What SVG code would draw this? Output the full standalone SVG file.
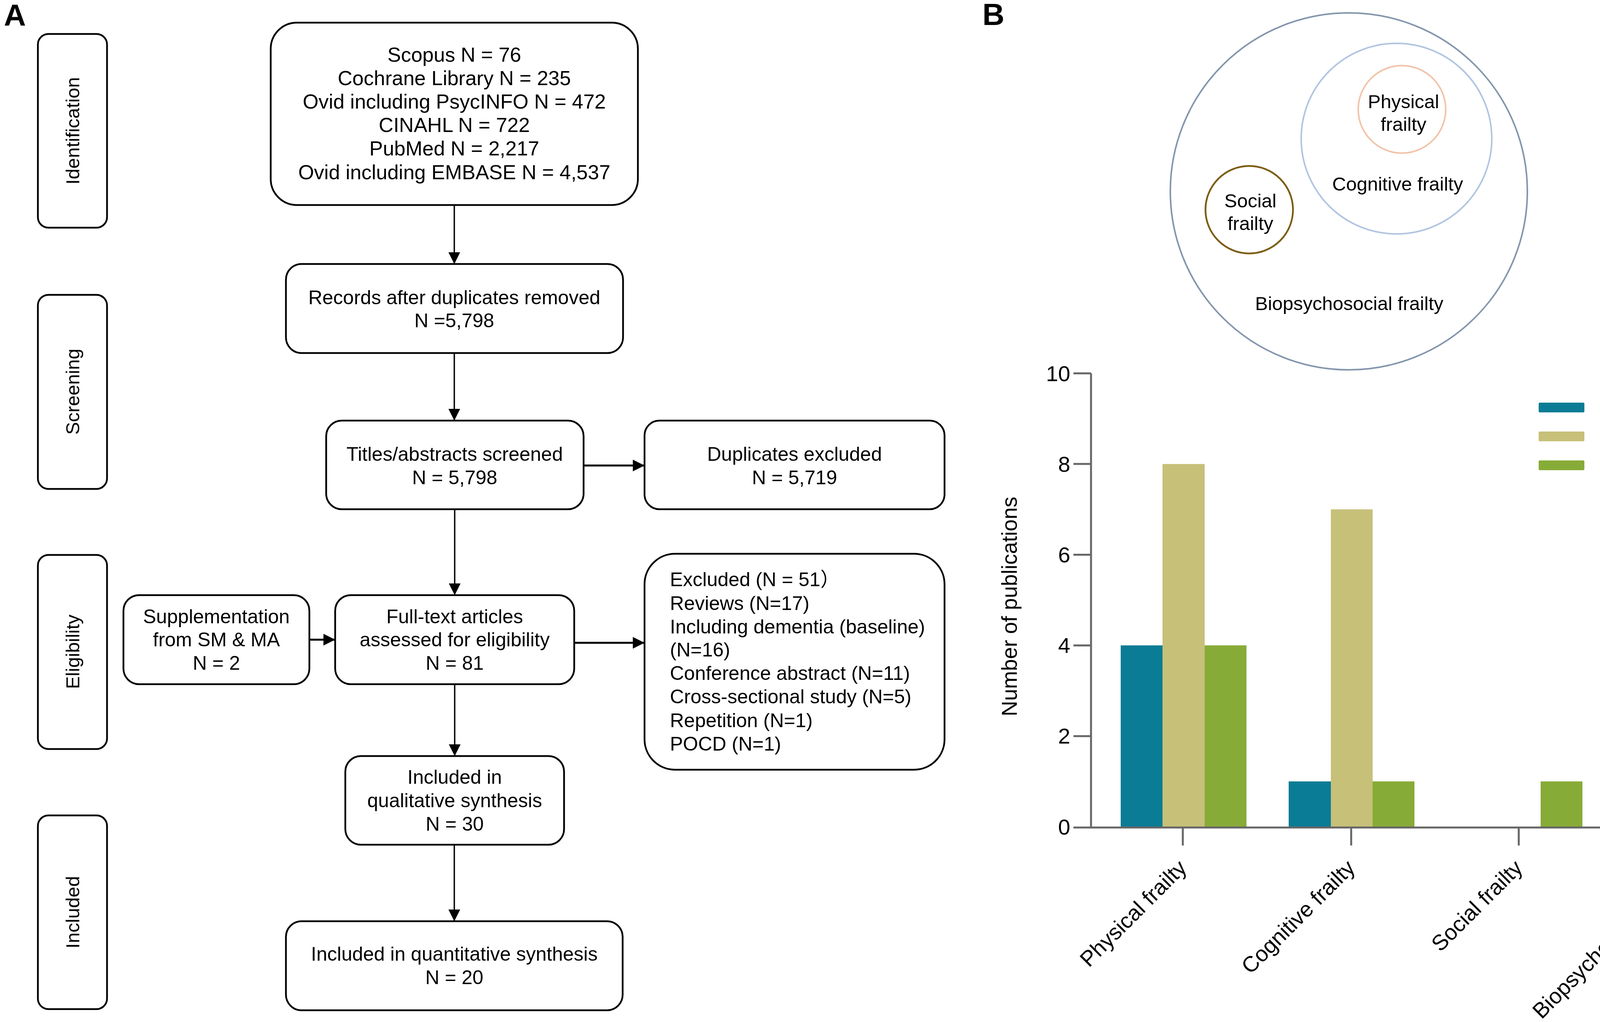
<svg xmlns="http://www.w3.org/2000/svg" width="4550" height="2617" viewBox="0 0 4550 2617">
<style>
text{font-family:"Liberation Sans",Arial,"Noto Sans CJK SC",sans-serif;fill:#000}
.box{fill:#fff;stroke:#000;stroke-width:4.5}
.t{font-size:50px;text-anchor:middle}
.tt{font-size:52px;text-anchor:middle}
.tl{font-size:50px}
.stage{font-size:49px;text-anchor:middle}
.lab{font-size:78px;font-weight:bold}
.cv{stroke:#000;stroke-width:3.5;fill:none}
.ch{stroke:#000;stroke-width:5;fill:none}
.vn{font-size:49px;text-anchor:middle}
.ax{stroke:#666;stroke-width:5;fill:none}
.tk{font-size:56px;text-anchor:end}
.xl{font-size:56px;text-anchor:end}
.lg{font-size:49px}
.c1{fill:#0b7c95}.c2{fill:#c6c079}.c3{fill:#87ab37}
</style>
<defs>
<marker id="ah" markerUnits="userSpaceOnUse" markerWidth="30" markerHeight="30" refX="30" refY="15" orient="auto">
<path d="M0,0 L30,15 L0,30 z" fill="#000"/>
</marker>
</defs>
<text class="lab" x="10" y="66">A</text>
<text class="lab" x="2515" y="64">B</text>
<g id="stage-identification"><rect class="box" x="97" y="87" width="177" height="496" rx="27"/><text class="stage" transform="translate(203,335) rotate(-90)">Identification</text></g>
<g id="stage-screening"><rect class="box" x="97" y="755" width="177" height="497" rx="27"/><text class="stage" transform="translate(203,1003) rotate(-90)">Screening</text></g>
<g id="stage-eligibility"><rect class="box" x="97" y="1421" width="177" height="497" rx="27"/><text class="stage" transform="translate(203,1669) rotate(-90)">Eligibility</text></g>
<g id="stage-included"><rect class="box" x="97" y="2088" width="177" height="496" rx="27"/><text class="stage" transform="translate(203,2336) rotate(-90)">Included</text></g>
<g id="sources"><rect class="box" x="693" y="58" width="940" height="467" rx="67"/>
<text class="tt" x="1163" y="158">Scopus N = 76</text>
<text class="tt" x="1163" y="218">Cochrane Library N = 235</text>
<text class="tt" x="1163" y="278">Ovid including PsycINFO N = 472</text>
<text class="tt" x="1163" y="338">CINAHL N = 722</text>
<text class="tt" x="1163" y="398">PubMed N = 2,217</text>
<text class="tt" x="1163" y="459">Ovid including EMBASE N = 4,537</text></g>
<g id="records"><rect class="box" x="732" y="676" width="863" height="228" rx="40"/>
<text class="t" x="1163" y="779">Records after duplicates removed</text>
<text class="t" x="1163" y="838">N =5,798</text></g>
<g id="titles"><rect class="box" x="835" y="1077" width="659" height="227" rx="40"/>
<text class="t" x="1164" y="1180">Titles/abstracts screened</text>
<text class="t" x="1164" y="1240">N = 5,798</text></g>
<g id="duplicates"><rect class="box" x="1650" y="1077" width="768" height="227" rx="38"/>
<text class="t" x="2034" y="1180">Duplicates excluded</text>
<text class="t" x="2034" y="1240">N = 5,719</text></g>
<g id="supplementation"><rect class="box" x="316" y="1524" width="476" height="228" rx="40"/>
<text class="t" x="554" y="1596">Supplementation</text>
<text class="t" x="554" y="1655">from SM &amp; MA</text>
<text class="t" x="554" y="1715">N = 2</text></g>
<g id="fulltext"><rect class="box" x="858" y="1524" width="612" height="228" rx="40"/>
<text class="t" x="1164" y="1596">Full-text articles</text>
<text class="t" x="1164" y="1655">assessed for eligibility</text>
<text class="t" x="1164" y="1715">N = 81</text></g>
<g id="excluded"><rect class="box" x="1650" y="1418" width="768" height="553" rx="78"/>
<text class="tl" x="1715" y="1501">Excluded (N = 51）</text>
<text class="tl" x="1715" y="1562">Reviews (N=17)</text>
<text class="tl" x="1715" y="1622">Including dementia (baseline)</text>
<text class="tl" x="1715" y="1681">(N=16)</text>
<text class="tl" x="1715" y="1741">Conference abstract (N=11)</text>
<text class="tl" x="1715" y="1801">Cross-sectional study (N=5)</text>
<text class="tl" x="1715" y="1862">Repetition (N=1)</text>
<text class="tl" x="1715" y="1922">POCD (N=1)</text></g>
<g id="qualitative"><rect class="box" x="884" y="1936" width="560" height="227" rx="40"/>
<text class="t" x="1164" y="2007">Included in</text>
<text class="t" x="1164" y="2067">qualitative synthesis</text>
<text class="t" x="1164" y="2127">N = 30</text></g>
<g id="quantitative"><rect class="box" x="732" y="2359" width="862" height="228" rx="40"/>
<text class="t" x="1163" y="2460">Included in quantitative synthesis</text>
<text class="t" x="1163" y="2520">N = 20</text></g>
<g id="connectors">
<line class="cv" x1="1163" y1="525" x2="1163" y2="676" marker-end="url(#ah)"/>
<line class="cv" x1="1163" y1="904" x2="1163" y2="1077" marker-end="url(#ah)"/>
<line class="ch" x1="1494" y1="1192" x2="1650" y2="1192" marker-end="url(#ah)"/>
<line class="cv" x1="1164" y1="1304" x2="1164" y2="1524" marker-end="url(#ah)"/>
<line class="ch" x1="792" y1="1638" x2="858" y2="1638" marker-end="url(#ah)"/>
<line class="ch" x1="1470" y1="1646" x2="1650" y2="1646" marker-end="url(#ah)"/>
<line class="cv" x1="1164" y1="1752" x2="1164" y2="1936" marker-end="url(#ah)"/>
<line class="cv" x1="1163" y1="2163" x2="1163" y2="2359" marker-end="url(#ah)"/>
</g>
<g id="venn">
<circle cx="3453" cy="490" r="457" fill="none" stroke="#8496ad" stroke-width="4"/>
<circle cx="3575" cy="355" r="244" fill="none" stroke="#b1c5e1" stroke-width="4"/>
<circle cx="3589" cy="280" r="112" fill="none" stroke="#f2c3a8" stroke-width="4"/>
<circle cx="3198" cy="537" r="112" fill="none" stroke="#7b5d12" stroke-width="4.5"/>
<text class="vn" x="3593" y="277">Physical</text>
<text class="vn" x="3593" y="335">frailty</text>
<text class="vn" x="3578" y="488">Cognitive frailty</text>
<text class="vn" x="3201" y="531">Social</text>
<text class="vn" x="3201" y="589">frailty</text>
<text class="vn" x="3454" y="794">Biopsychosocial frailty</text>
</g>
<g id="chart">
<g id="bars">
<rect class="c1" x="2869" y="1652.6" width="107" height="464.4"/>
<rect class="c2" x="2976" y="1188.2" width="108" height="928.8"/>
<rect class="c3" x="3084" y="1652.6" width="107" height="464.4"/>
<rect class="c1" x="3299" y="2000.9" width="108" height="116.1"/>
<rect class="c2" x="3407" y="1304.3" width="107" height="812.7"/>
<rect class="c3" x="3514" y="2000.9" width="107" height="116.1"/>
<rect class="c3" x="3944" y="2000.9" width="107" height="116.1"/>
<rect class="c2" x="4267" y="1536.5" width="107" height="580.5"/>
<rect class="c3" x="4374" y="1884.8" width="107" height="232.2"/>
</g>
<path class="ax" d="M2793,956 V2117 M2748,956 H2793 M2748,1188 H2793 M2748,1420.6 H2793 M2748,1652.7 H2793 M2748,1884.9 H2793"/>
<path class="ax" d="M2748,2119 H4545 M3028,2119 V2165 M3459,2119 V2165 M3888,2119 V2165 M4319,2119 V2165"/>
<text class="tk" x="2740" y="976">10</text>
<text class="tk" x="2740" y="1208">8</text>
<text class="tk" x="2740" y="1440">6</text>
<text class="tk" x="2740" y="1672">4</text>
<text class="tk" x="2740" y="1904">2</text>
<text class="tk" x="2740" y="2137">0</text>
<text style="font-size:55px;text-anchor:middle" transform="translate(2603,1553) rotate(-90)">Number of publications</text>
<text class="xl" transform="translate(3041,2226) rotate(-45)">Physical frailty</text>
<text class="xl" transform="translate(3472,2226) rotate(-45)">Cognitive frailty</text>
<text class="xl" transform="translate(3901,2226) rotate(-45)">Social frailty</text>
<text class="xl" transform="translate(4336,2222) rotate(-45)">Biopsychosocial frailty</text>
<g id="legend">
<rect class="c1" x="3939" y="1031" width="117" height="25" rx="3"/>
<rect class="c2" x="3939" y="1105" width="117" height="25" rx="3"/>
<rect class="c3" x="3939" y="1179" width="117" height="25" rx="3"/>
<text class="lg" x="4113" y="1064">Cognitive decline</text>
<text class="lg" x="4113" y="1139">Dementia</text>
<text class="lg" x="4113" y="1211">AD</text>
</g>
</g>
</svg>
